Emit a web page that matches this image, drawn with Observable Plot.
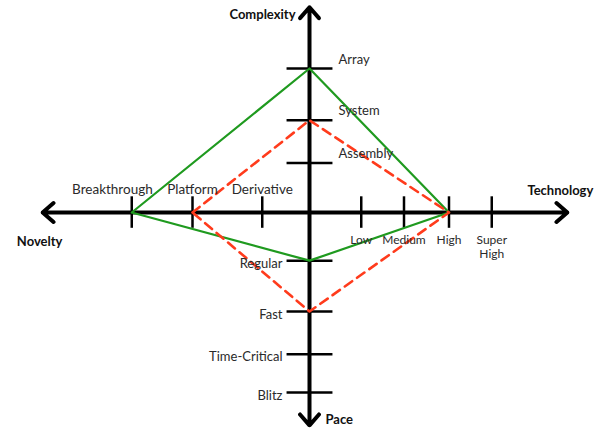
<!DOCTYPE html>
<html>
<head>
<meta charset="utf-8">
<script src="https://cdn.jsdelivr.net/npm/d3@7"></script>
<script src="https://cdn.jsdelivr.net/npm/@observablehq/plot@0.6"></script>
<style>
  html, body { margin: 0; padding: 0; background: #fff; }
  #chart { width: 601px; height: 428px; }
</style>
</head>
<body>
<div id="chart"></div>
<script>
// ---- Data (positions in axis units; 0 = origin of the diamond) ----
const noveltyLabels = ["Derivative", "Platform", "Breakthrough"];
const noveltyPos = [-1.05, -2.6, -3.95];

const technologyLabels = ["Low", "Medium", "High", "Super\nHigh"];
const technologyPos = [1.15, 2.1, 3.1, 4.05];

const complexityLabels = ["Assembly", "System", "Array"];
const complexityPos = [1.1, 2.05, 3.2];

const paceLabels = ["Regular", "Fast", "Time-Critical", "Blitz"];
const pacePos = [-1.07, -2.2, -3.15, -4.0];

// axis extents: left, right, top, bottom
const axisNames = ["Novelty", "Technology", "Complexity", "Pace"];
const axisEnds = [-5.93, 5.73, 4.56, -4.73];

// profiles: [novelty, technology, complexity, pace]
const profileGreen = ["Breakthrough", "High", "Array", "Regular"];
const profileRed = ["Platform", "High", "System", "Fast"];

// ---- Build tables ----
const U = 45; // pixels per axis unit
const W = 601, H = 428;
const cx = 309, cy = 212;

const nov = noveltyLabels.map((l, i) => ({label: l, x: noveltyPos[i], y: 0}));
const tech = technologyLabels.map((l, i) => ({label: l, x: technologyPos[i], y: 0}));
const cmp = complexityLabels.map((l, i) => ({label: l, x: 0, y: complexityPos[i]}));
const pac = paceLabels.map((l, i) => ({label: l, x: 0, y: pacePos[i]}));

const find = (arr, name) => arr.find(d => d.label.replace("\n", " ") === name);
function diamond(p) {
  const a = find(nov, p[0]), b = find(cmp, p[2]), c = find(tech, p[1]), d = find(pac, p[3]);
  return [a, b, c, d, a].map(o => ({x: o.x, y: o.y}));
}
const greenPts = diamond(profileGreen);
const redPts = diamond(profileRed);

const arrows = [
  {x2: axisEnds[0], y2: 0},
  {x2: axisEnds[1], y2: 0},
  {x2: 0, y2: axisEnds[2]},
  {x2: 0, y2: axisEnds[3]}
];

const hTicks = nov.concat(tech);
const vTicks = cmp.concat(pac);

const font = "Lato, 'Open Sans', sans-serif";
const txt = "#2a2a2a";

const chart = Plot.plot({
  width: W,
  height: H,
  margin: 0,
  style: {fontFamily: font, background: "white"},
  x: {domain: [-cx / U, (W - cx) / U], range: [0, W], axis: null},
  y: {domain: [-(H - cy) / U, cy / U], range: [H, 0], axis: null},
  marks: [
    Plot.link(hTicks, {x1: "x", x2: "x", y1: -0.34, y2: 0.36, stroke: "black", strokeWidth: 2.5}),
    Plot.link(vTicks, {x1: -0.51, x2: 0.51, y1: "y", y2: "y", stroke: "black", strokeWidth: 2.5}),
    Plot.arrow(arrows, {x1: 0, y1: 0, x2: "x2", y2: "y2", stroke: "black", strokeWidth: 4,
      headLength: 5.4, headAngle: 82, bend: 0, insetEnd: 0, strokeLinejoin: "miter"}),
    Plot.line(greenPts, {x: "x", y: "y", stroke: "#1f9a1f", strokeWidth: 2.2, curve: "linear"}),
    Plot.line(redPts, {x: "x", y: "y", stroke: "#ff3b1c", strokeWidth: 2.6, strokeDasharray: "9,6", curve: "linear"}),
    // tick labels
    Plot.text(nov, {filter: d => d.label !== "Breakthrough", x: "x", y: "y", text: "label", dy: -23, fontSize: 13.5, fill: txt}),
    Plot.text(nov, {filter: d => d.label === "Breakthrough", x: "x", y: "y", text: "label", dx: 21, dy: -23, textAnchor: "end", fontSize: 13.5, fill: txt}),
    Plot.text(tech, {x: "x", y: "y", text: "label", dy: 21, lineAnchor: "top", fontSize: 12, lineHeight: 1.2, fill: txt}),
    Plot.text(cmp, {x: "x", y: "y", text: "label", dx: 29, dy: -9, textAnchor: "start", fontSize: 13, fill: txt}),
    Plot.text(pac, {x: "x", y: "y", text: "label", dx: -27, dy: 3, textAnchor: "end", fontSize: 13, fill: txt}),
    // axis titles
    Plot.text([{t: axisNames[0], x: axisEnds[0], y: 0}], {x: "x", y: "y", text: "t", dx: -3, dy: 29, fontWeight: "bold", fontSize: 13, fill: "#111"}),
    Plot.text([{t: axisNames[1], x: axisEnds[1], y: 0}], {x: "x", y: "y", text: "t", dx: 26, dy: -22, textAnchor: "end", fontWeight: "bold", fontSize: 13, fill: "#111"}),
    Plot.text([{t: axisNames[2], x: 0, y: axisEnds[2]}], {x: "x", y: "y", text: "t", dx: -14, dy: 8, textAnchor: "end", fontWeight: "bold", fontSize: 13, fill: "#111"}),
    Plot.text([{t: axisNames[3], x: 0, y: axisEnds[3]}], {x: "x", y: "y", text: "t", dx: 16, dy: -6, textAnchor: "start", fontWeight: "bold", fontSize: 13, fill: "#111"})
  ]
});
document.getElementById("chart").appendChild(chart);
</script>
</body>
</html>
